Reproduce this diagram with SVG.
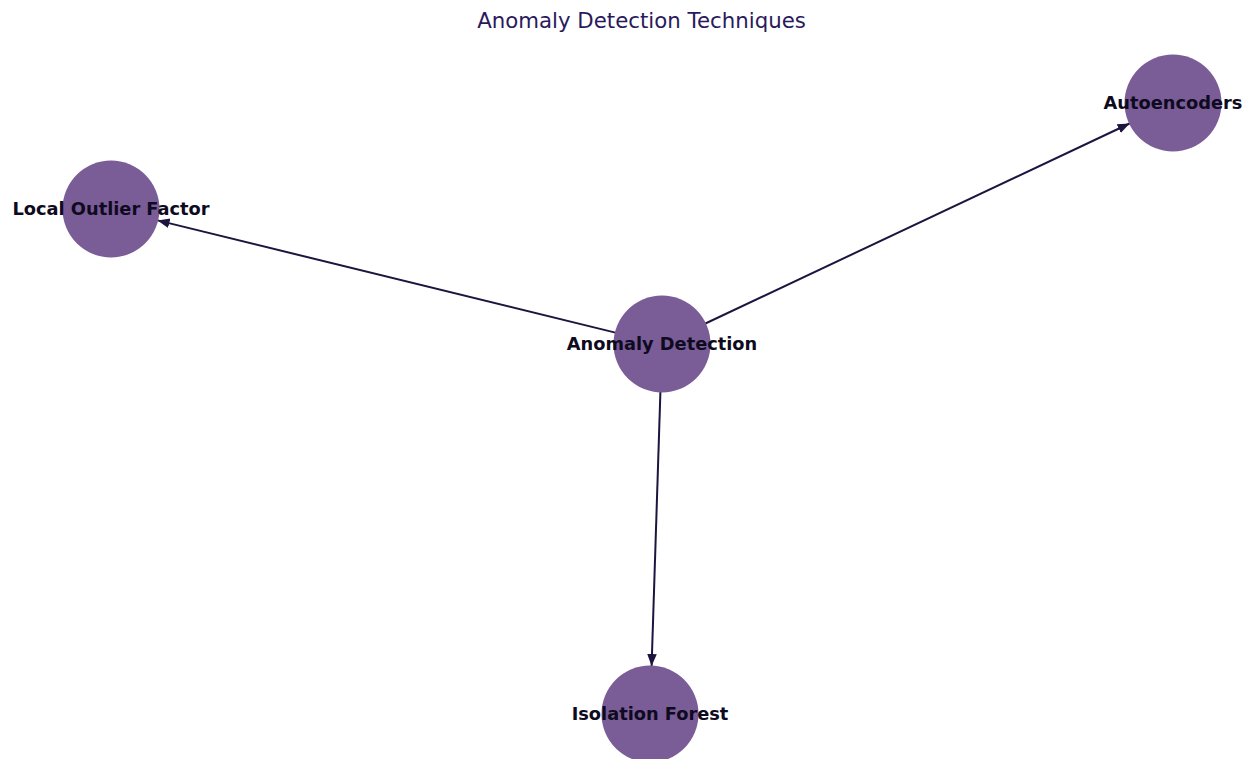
<svg xmlns="http://www.w3.org/2000/svg" width="1247" height="759" viewBox="0 0 1247 759">
<style>
.node{fill:#7a5c97;}
.label{font-family:"DejaVu Sans",sans-serif;font-weight:bold;font-size:17.8px;fill:#0e0a20;text-anchor:middle;}
.edge{stroke:#1e1440;stroke-width:2;fill:none;}
.title{font-family:"DejaVu Sans",sans-serif;font-size:21.3px;fill:#2a1a5c;text-anchor:middle;}
</style>
<defs>
<marker id="arrow" viewBox="0 0 10 10" refX="10" refY="5" markerWidth="6" markerHeight="6" markerUnits="strokeWidth" orient="auto">
<path d="M0,1 L10,5 L0,9 z" fill="#1e1440"/>
</marker>
</defs>
<rect width="1247" height="759" fill="#ffffff"/>
<text class="title" x="641.5" y="28">Anomaly Detection Techniques</text>
<g id="connectors">
<line class="edge" x1="615.4" y1="332.6" x2="157.6" y2="220.4" marker-end="url(#arrow)"/>
<line class="edge" x1="705.4" y1="323.5" x2="1129.6" y2="123.5" marker-end="url(#arrow)"/>
<line class="edge" x1="660.4" y1="392" x2="651.6" y2="666" marker-end="url(#arrow)"/>
</g>
<g id="node-lof">
<circle class="node" cx="111" cy="209" r="48.5"/>
<text class="label" x="111" y="215">Local Outlier Factor</text>
</g>
<g id="node-autoencoders">
<circle class="node" cx="1173" cy="103" r="48.5"/>
<text class="label" x="1173" y="109">Autoencoders</text>
</g>
<g id="node-anomaly">
<circle class="node" cx="662" cy="344" r="48.5"/>
<text class="label" x="662" y="350">Anomaly Detection</text>
</g>
<g id="node-isolation">
<circle class="node" cx="650" cy="714" r="48.5"/>
<text class="label" x="650" y="720">Isolation Forest</text>
</g>
</svg>
